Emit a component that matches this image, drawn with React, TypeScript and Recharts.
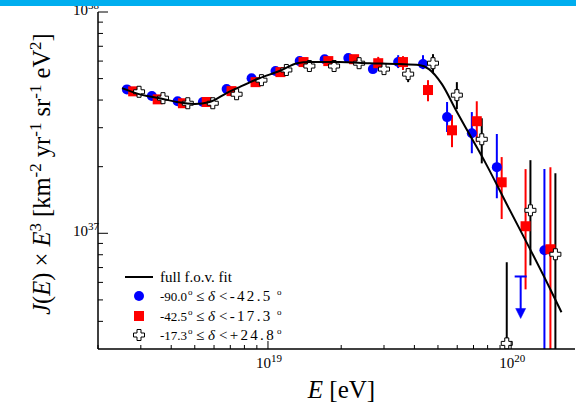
import React from 'react';
import { ComposedChart, Scatter, Line, XAxis, YAxis, ErrorBar } from 'recharts';

// ---------- data ----------
const X_TICKS = [2e18, 3e18, 4e18, 5e18, 6e18, 7e18, 8e18, 9e18, 1e19, 2e19, 3e19, 4e19, 5e19, 6e19, 7e19, 8e19, 9e19, 1e20];
const Y_TICKS = [4e36, 5e36, 6e36, 7e36, 8e36, 9e36, 1e37, 2e37, 3e37, 4e37, 5e37, 6e37, 7e37, 8e37, 9e37, 1e38];
const X_DOMAIN = [2e18, 1.83e20];
const Y_DOMAIN = [3e36, 1e38];

const blueE = [2.63e18, 3.33e18, 4.25e18, 5.40e18, 6.76e18, 8.56e18, 1.074e19, 1.35e19, 1.71e19, 2.14e19, 2.70e19, 3.43e19, 4.34e19, 5.45e19, 6.89e19, 8.73e19, 1.37e20];
const blueJ = [4.47e37, 4.17e37, 3.95e37, 3.92e37, 4.49e37, 5.02e37, 5.41e37, 6.00e37, 6.12e37, 6.19e37, 5.52e37, 5.94e37, 5.82e37, 3.35e37, 2.83e37, 1.99e37, 8.38e36];
const blueLo = [4.40e37, 4.10e37, 3.88e37, 3.85e37, 4.41e37, 4.93e37, 5.31e37, 5.86e37, 5.97e37, 6.02e37, 5.32e37, 5.58e37, 5.52e37, 2.87e37, 2.30e37, 1.44e37, 1e36];
const blueHi = [4.54e37, 4.24e37, 4.02e37, 3.99e37, 4.57e37, 5.11e37, 5.51e37, 6.14e37, 6.27e37, 6.36e37, 5.72e37, 6.38e37, 6.38e37, 3.92e37, 3.53e37, 2.81e37, 1.95e37];

const blueLimitE = [1.094e20];
const blueLimitJ = [6.38e36];

const redE = [2.79e18, 3.52e18, 4.47e18, 5.60e18, 7.08e18, 8.89e18, 1.125e19, 1.40e19, 1.77e19, 2.26e19, 2.84e19, 3.59e19, 4.55e19, 5.71e19, 7.22e19, 9.14e19, 1.146e20, 1.45e20];
const redJ = [4.38e37, 4.03e37, 3.87e37, 3.92e37, 4.39e37, 4.82e37, 5.35e37, 5.94e37, 6.00e37, 6.12e37, 5.87e37, 5.94e37, 4.44e37, 2.92e37, 3.21e37, 1.70e37, 1.076e37, 8.47e36];
const redLo = [4.31e37, 3.96e37, 3.80e37, 3.85e37, 4.30e37, 4.72e37, 5.24e37, 5.80e37, 5.84e37, 5.92e37, 5.52e37, 5.47e37, 3.95e37, 2.45e37, 2.58e37, 1.16e37, 5.58e36, 1e36];
const redHi = [4.45e37, 4.10e37, 3.94e37, 3.99e37, 4.48e37, 4.92e37, 5.46e37, 6.08e37, 6.16e37, 6.32e37, 6.27e37, 6.32e37, 4.92e37, 3.42e37, 3.95e37, 2.21e37, 1.95e37, 1.99e37];

const crossE = [2.95e18, 3.70e18, 4.68e18, 5.93e18, 7.43e18, 9.40e18, 1.19e19, 1.48e19, 1.87e19, 2.37e19, 3.00e19, 3.77e19, 4.77e19, 5.98e19, 7.57e19, 9.59e19, 1.20e20, 1.52e20];
const crossJ = [4.36e37, 4.08e37, 3.87e37, 3.87e37, 4.25e37, 4.92e37, 5.47e37, 5.70e37, 5.70e37, 5.87e37, 5.52e37, 5.24e37, 5.87e37, 4.21e37, 2.66e37, 3.18e36, 1.27e37, 8.04e36];
const crossLo = [4.30e37, 4.02e37, 3.81e37, 3.81e37, 4.18e37, 4.83e37, 5.37e37, 5.58e37, 5.57e37, 5.68e37, 5.32e37, 4.82e37, 5.29e37, 3.64e37, 2.07e37, 1e36, 7.16e36, 1e36];
const crossHi = [4.42e37, 4.14e37, 3.93e37, 3.93e37, 4.32e37, 5.01e37, 5.57e37, 5.82e37, 5.83e37, 6.06e37, 5.72e37, 5.52e37, 6.45e37, 4.82e37, 3.31e37, 7.40e36, 2.14e37, 1.87e37];

const fitE = [2.51e18, 3.06e18, 3.59e18, 4.22e18, 5.00e18, 5.76e18, 6.76e18, 7.64e18, 9.23e18, 1.114e19, 1.32e19, 1.48e19, 1.96e19, 2.61e19, 3.46e19, 4.18e19, 4.59e19, 5.19e19, 5.93e19, 6.70e19, 7.86e19, 9.77e19, 1.18e20, 1.43e20, 1.61e20];
const fitJ = [4.53e37, 4.21e37, 4.08e37, 3.92e37, 3.84e37, 3.92e37, 4.30e37, 4.58e37, 5.02e37, 5.41e37, 5.87e37, 5.94e37, 5.94e37, 5.87e37, 5.82e37, 5.76e37, 5.52e37, 4.72e37, 3.60e37, 2.83e37, 2.07e37, 1.30e37, 8.73e36, 5.75e36, 4.40e36];

const legendRows = [
  { lo: '-90.0', hi: '<-42.5' },
  { lo: '-42.5', hi: '<-17.3' },
  { lo: '-17.3', hi: '<+24.8' },
];

// ---------- styles ----------
const SERIF = '"Liberation Serif", "Times New Roman", serif';
const BLUE = '#0000ff';
const RED = '#ff0000';
const W = 576;
const H = 404;
const MARGIN = { top: 12, right: 1, bottom: 0, left: 0 };
const PLOT_BOTTOM = 349;

const build = (E: number[], J: number[], lo: number[], hi: number[]) =>
  E.map((x, i) => ({ x, y: J[i], err: [J[i] - lo[i], hi[i] - J[i]] }));

const blueData = build(blueE, blueJ, blueLo, blueHi);
const redData = build(redE, redJ, redLo, redHi);
const crossData = build(crossE, crossJ, crossLo, crossHi);
const limitData = blueLimitE.map((x, i) => ({ x, y: blueLimitJ[i] }));
const fitData = fitE.map((x, i) => ({ x, y: fitJ[i] }));

const isMajor = (v: number) => Math.abs(Math.log10(v) - Math.round(Math.log10(v))) < 1e-6;
const expOf = (v: number) => Math.round(Math.log10(v));

const BottomTick = (p: any) => {
  const { x, y, payload } = p;
  const m = isMajor(payload.value);
  return (
    <g>
      <line x1={x} x2={x} y1={y} y2={y - (m ? 8 : 4)} stroke="#000" strokeWidth={1} />
      {m && (
        <text x={x + 1} y={y + 19} textAnchor="middle" fontFamily={SERIF} fontSize={15} fill="#000">
          10<tspan dy={-6} fontSize={11}>{expOf(payload.value)}</tspan>
        </text>
      )}
    </g>
  );
};

const TopTick = (p: any) => {
  const { x, y, payload } = p;
  const m = isMajor(payload.value);
  return <line x1={x} x2={x} y1={y} y2={y + (m ? 8 : 4)} stroke="#000" strokeWidth={1} />;
};

const LeftTick = (p: any) => {
  const { x, y, payload } = p;
  const m = isMajor(payload.value);
  return (
    <g>
      <line x1={x} x2={x + (m ? 10 : 5)} y1={y} y2={y} stroke="#000" strokeWidth={1} />
      {m && (
        <text x={x - 10} y={y + 3} textAnchor="end" fontFamily={SERIF} fontSize={15} fill="#000">
          10
        </text>
      )}
      {m && (
        <text x={x - 10} y={y - 3} textAnchor="start" fontFamily={SERIF} fontSize={11} fill="#000">
          {expOf(payload.value)}
        </text>
      )}
    </g>
  );
};

const RightTick = (p: any) => {
  const { x, y, payload } = p;
  const m = isMajor(payload.value);
  return <line x1={x} x2={x - (m ? 10 : 5)} y1={y} y2={y} stroke="#000" strokeWidth={1} />;
};

const Circle = (p: any) => <circle cx={p.cx} cy={p.cy} r={5} fill={BLUE} />;
const Square = (p: any) => <rect x={p.cx - 5} y={p.cy - 5} width={10} height={10} fill={RED} />;
const plusPath = (cx: number, cy: number) => {
  const a = 5.5, b = 2;
  return `M${cx - b},${cy - a}H${cx + b}V${cy - b}H${cx + a}V${cy + b}H${cx + b}V${cy + a}H${cx - b}V${cy + b}H${cx - a}V${cy - b}H${cx - b}Z`;
};
const Plus = (p: any) => <path d={plusPath(p.cx, p.cy)} fill="#fff" stroke="#000" strokeWidth={1} />;
const Limit = (p: any) => {
  const { cx, cy } = p;
  return (
    <g stroke={BLUE} strokeWidth={2} fill={BLUE}>
      <line x1={cx - 6} x2={cx + 6} y1={cy} y2={cy} />
      <line x1={cx} x2={cx} y1={cy} y2={cy + 33} />
      <polygon points={`${cx - 5},${cy + 32} ${cx + 5},${cy + 32} ${cx},${cy + 42}`} strokeWidth={0.5} />
    </g>
  );
};

const XLabel = (p: any) => {
  const vb = p.viewBox;
  return (
    <text x={vb.x + vb.width / 2 + 5} y={398} textAnchor="middle" fontFamily={SERIF} fontSize={25} fill="#000">
      <tspan fontStyle="italic">E</tspan> [eV]
    </text>
  );
};

const YLabel = () => (
  <text x={50} y={174} transform="rotate(-90 50 174)" textAnchor="middle" fontFamily={SERIF} fontSize={24.5} fill="#000">
    <tspan fontStyle="italic">J</tspan>(<tspan fontStyle="italic">E</tspan>) × <tspan fontStyle="italic">E</tspan>
    <tspan baselineShift="super" fontSize={17}>3</tspan> [km<tspan baselineShift="super" fontSize={17}>-2</tspan> yr
    <tspan baselineShift="super" fontSize={17}>-1</tspan> sr<tspan baselineShift="super" fontSize={17}>-1</tspan> eV
    <tspan baselineShift="super" fontSize={17}>2</tspan>]
  </text>
);

const LegendBox = () => (
  <svg width={W} height={H} style={{ position: 'absolute', left: 0, top: 0, pointerEvents: 'none' }}>
    <line x1={125} x2={153} y1={277} y2={277} stroke="#000" strokeWidth={2} />
    <text x={160} y={282} fontFamily={SERIF} fontSize={15} fill="#000">full f.o.v. fit</text>
    <circle cx={139} cy={296} r={5} fill={BLUE} />
    <rect x={134} y={311} width={10} height={10} fill={RED} />
    <path d={plusPath(139, 335)} fill="#fff" stroke="#000" strokeWidth={1} />
    {legendRows.map((r, i) => {
      const y = 301 + i * 19.5;
      return (
        <g key={i} fontFamily={SERIF} fill="#000">
          <text x={160} y={y} fontSize={13}>{r.lo}</text>
          <text x={188} y={y - 6} fontSize={9}>o</text>
          <text x={196} y={y} fontSize={15}>≤</text>
          <text x={208} y={y} fontSize={15} fontStyle="italic">δ</text>
          <text x={219} y={y} fontSize={15} letterSpacing={2.3}>{r.hi}</text>
          <text x={277} y={y - 6} fontSize={9}>o</text>
        </g>
      );
    })}
  </svg>
);

const axesCommon = (withTicks: boolean) => [
  <XAxis
    key="xb"
    xAxisId="b"
    dataKey="x"
    type="number"
    scale="log"
    domain={X_DOMAIN}
    allowDataOverflow
    ticks={X_TICKS}
    interval={0}
    height={55}
    tickSize={0}
    tickMargin={0}
    tickLine={false}
    tick={withTicks ? <BottomTick /> : false}
    axisLine={withTicks ? { stroke: '#000', strokeWidth: 1.5 } : false}
    label={withTicks ? <XLabel /> : undefined}
  />,
  <XAxis
    key="xt"
    xAxisId="t"
    orientation="top"
    dataKey="x"
    type="number"
    scale="log"
    domain={X_DOMAIN}
    allowDataOverflow
    ticks={X_TICKS}
    interval={0}
    height={0}
    tickSize={0}
    tickMargin={0}
    tickLine={false}
    tick={withTicks ? <TopTick /> : false}
    axisLine={withTicks ? { stroke: '#000', strokeWidth: 1.5 } : false}
  />,
  <YAxis
    key="yl"
    yAxisId="l"
    dataKey="y"
    type="number"
    scale="log"
    domain={Y_DOMAIN}
    allowDataOverflow
    ticks={Y_TICKS}
    interval={0}
    width={98}
    tickSize={0}
    tickMargin={0}
    tickLine={false}
    tick={withTicks ? <LeftTick /> : false}
    axisLine={withTicks ? { stroke: '#000', strokeWidth: 1.5 } : false}
    label={withTicks ? <YLabel /> : undefined}
  />,
  <YAxis
    key="yr"
    yAxisId="r"
    orientation="right"
    dataKey="y"
    type="number"
    scale="log"
    domain={Y_DOMAIN}
    allowDataOverflow
    ticks={Y_TICKS}
    interval={0}
    width={0}
    tickSize={0}
    tickMargin={0}
    tickLine={false}
    tick={withTicks ? <RightTick /> : false}
    axisLine={withTicks ? { stroke: '#000', strokeWidth: 1.5 } : false}
  />,
];

export default function App() {
  return (
    <div style={{ position: 'absolute', left: 0, top: 0, width: W, height: H, background: '#fff', overflow: 'hidden' }}>
      {/* data points, clipped to the plot frame */}
      <div style={{ position: 'absolute', left: 0, top: 0, width: W, height: PLOT_BOTTOM, overflow: 'hidden' }}>
        <ComposedChart width={W} height={H} margin={MARGIN}>
          {axesCommon(false)}
          <Scatter xAxisId="b" yAxisId="l" data={blueData} dataKey="y" shape={<Circle />} isAnimationActive={false}>
            <ErrorBar dataKey="err" direction="y" width={0} stroke={BLUE} strokeWidth={2} />
          </Scatter>
          <Scatter xAxisId="b" yAxisId="l" data={limitData} dataKey="y" shape={<Limit />} isAnimationActive={false} />
          <Scatter xAxisId="b" yAxisId="l" data={redData} dataKey="y" shape={<Square />} isAnimationActive={false}>
            <ErrorBar dataKey="err" direction="y" width={0} stroke={RED} strokeWidth={2} />
          </Scatter>
          <Scatter xAxisId="b" yAxisId="l" data={crossData} dataKey="y" shape={<Plus />} isAnimationActive={false}>
            <ErrorBar dataKey="err" direction="y" width={0} stroke="#000" strokeWidth={2} />
          </Scatter>
        </ComposedChart>
      </div>
      {/* frame, axes, labels and fit curve */}
      <div style={{ position: 'absolute', left: 0, top: 0, width: W, height: H }}>
        <ComposedChart width={W} height={H} margin={MARGIN}>
          {axesCommon(true)}
          <Line xAxisId="b" yAxisId="l" data={fitData} dataKey="y" type="monotone" stroke="#000" strokeWidth={2} dot={false} isAnimationActive={false} />
        </ComposedChart>
      </div>
      <LegendBox />
      <div style={{ position: 'absolute', left: 0, top: 0, width: W, height: 6, background: '#00aeef' }} />
    </div>
  );
}
